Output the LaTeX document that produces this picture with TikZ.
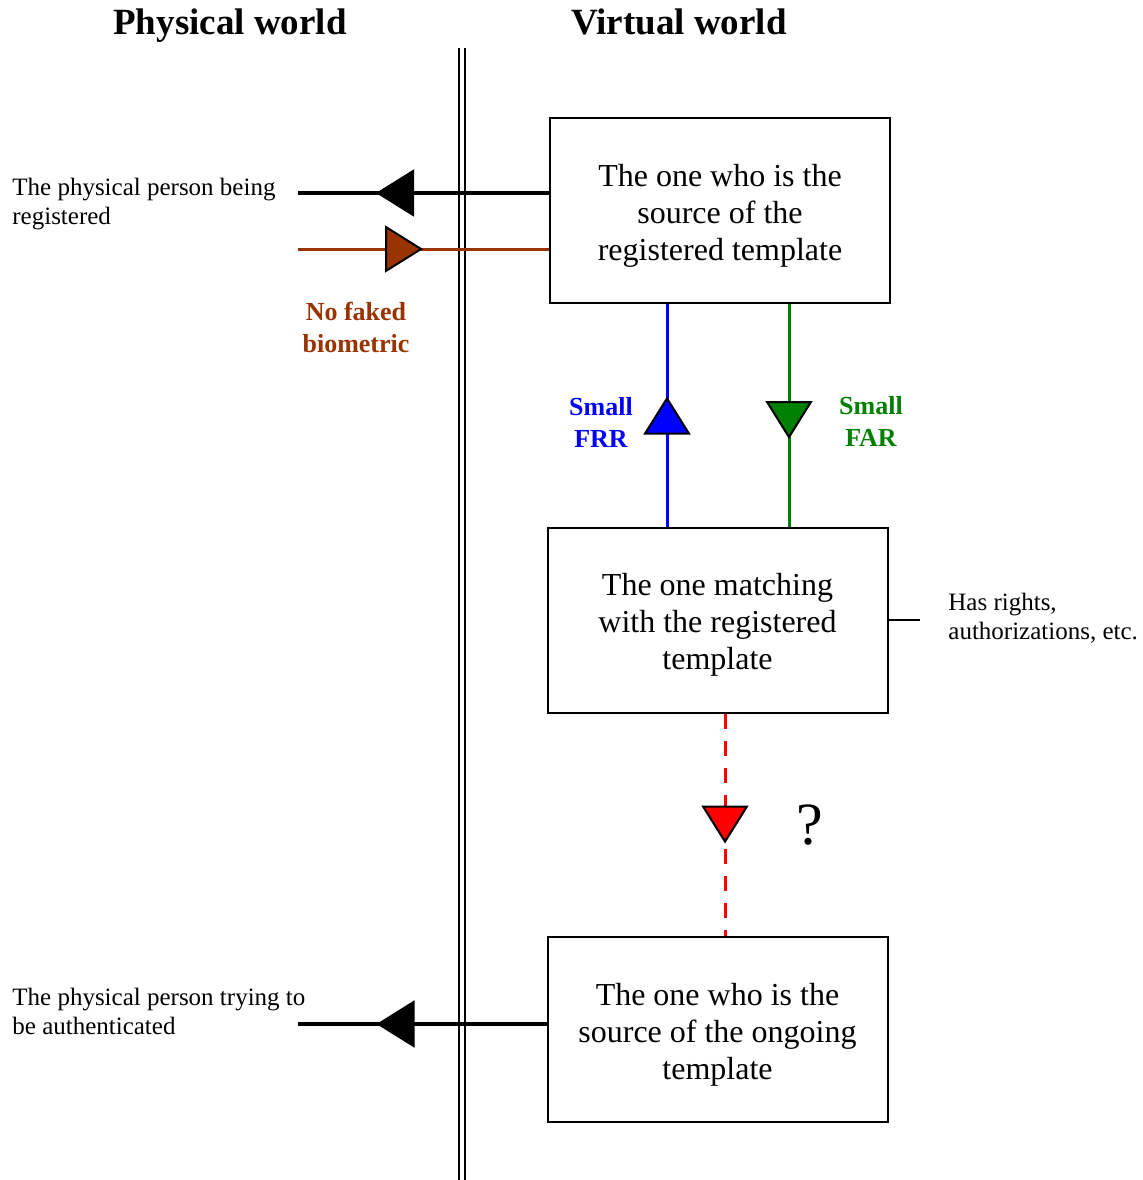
\documentclass[tikz,border=0pt]{standalone}
\usepackage{fontspec}
\setmainfont{Liberation Serif}
\usetikzlibrary{arrows.meta,decorations.markings}
\definecolor{brownish}{HTML}{993300}
\definecolor{darkgreen}{HTML}{008000}

\begin{document}
\begin{tikzpicture}[x=0.5pt, y=-0.5pt,
					ident/.style={draw, line width=1pt, minimum width=170pt,
						minimum height=92.5pt, align=center,
						font=\fontsize{16}{18.5}\selectfont},
					side/.style={align=left, inner sep=0pt,
						font=\fontsize{12.5}{14.5}\selectfont},
					tag/.style={align=center, font=\bfseries\fontsize{13}{16}\selectfont},
					title/.style={anchor=base, font=\bfseries\fontsize{18.5}{20}\selectfont},
					flow/.style 2 args={postaction={decorate},
						decoration={markings, mark=at position #1 with
						{\arrow{Triangle[length=19pt, width=23.5pt, line width=1pt, color=black, fill=#2]}}}}]

  \useasboundingbox (0,0) rectangle (1143,1180);

  \node[title] (P) at (230,34) {Physical world};
  \node[title] (V) at (679,34) {Virtual world};

  % border between the two worlds
  \coordinate (top) at (462,48);
  \coordinate (bot) at (462,1180);
  \draw[double, line width=1pt, double distance=2pt] (top) -- (bot);

  \node[ident] (A) at (720,210.5) {\rule{0pt}{16pt}The one who is the\\source of the\\registered template};
  \node[ident] (B) at (717.5,620) {\rule{0pt}{16pt}The one matching\\with the registered\\template};
  \node[ident] (C) at (717.5,1029.5) {\rule{0pt}{16pt}The one who is the\\source of the ongoing\\template};

  \node[side, anchor=west] (reg) at (12,204) {The physical person being\\registered};
  \node[side, anchor=west] (auth) at (12,1011) {The physical person trying to\\be authenticated};
  \node[side, anchor=west] (R) at (948,618) {Has rights,\\authorizations, etc.};

  \coordinate (r1) at (298,193);
  \coordinate (r2) at (298,249);
  \coordinate (a1) at (298,1024);
  \coordinate (fr) at (667,0);
  \coordinate (fa) at (789,0);
  \coordinate (qq) at (725,0);
  \coordinate (Re) at (920,620);

  \draw[line width=2pt, flow={86.5pt}{black}] (A.west |- r1) -- (r1);
  \draw[brownish, line width=1.5pt, flow={62.5pt}{brownish}] (r2) -- (r2 -| A.west);
  \draw[blue, line width=1.5pt, flow={65pt}{blue}] (fr |- B.north) -- (fr |- A.south);
  \draw[darkgreen, line width=1.5pt, flow={67.5pt}{darkgreen}] (fa |- A.south) -- (fa |- B.north);
  \draw[red, line width=1.5pt, dash pattern=on 7.5pt off 6pt, flow={65pt}{red}]
    (qq |- B.south) -- (qq |- C.north);
  \draw[line width=2pt, flow={85pt}{black}] (C.west |- a1) -- (a1);
  \draw[line width=1pt] (B.east) -- (Re);

  \node[tag, brownish] (nf) at (356,327) {No faked\\biometric};
  \node[tag, blue] (frr) at (601,422) {Small\\FRR};
  \node[tag, darkgreen] (far) at (871,421) {Small\\FAR};
  \node[font=\fontsize{30}{30}\selectfont] (q) at (810,825) {?};
\end{tikzpicture}
\end{document}
